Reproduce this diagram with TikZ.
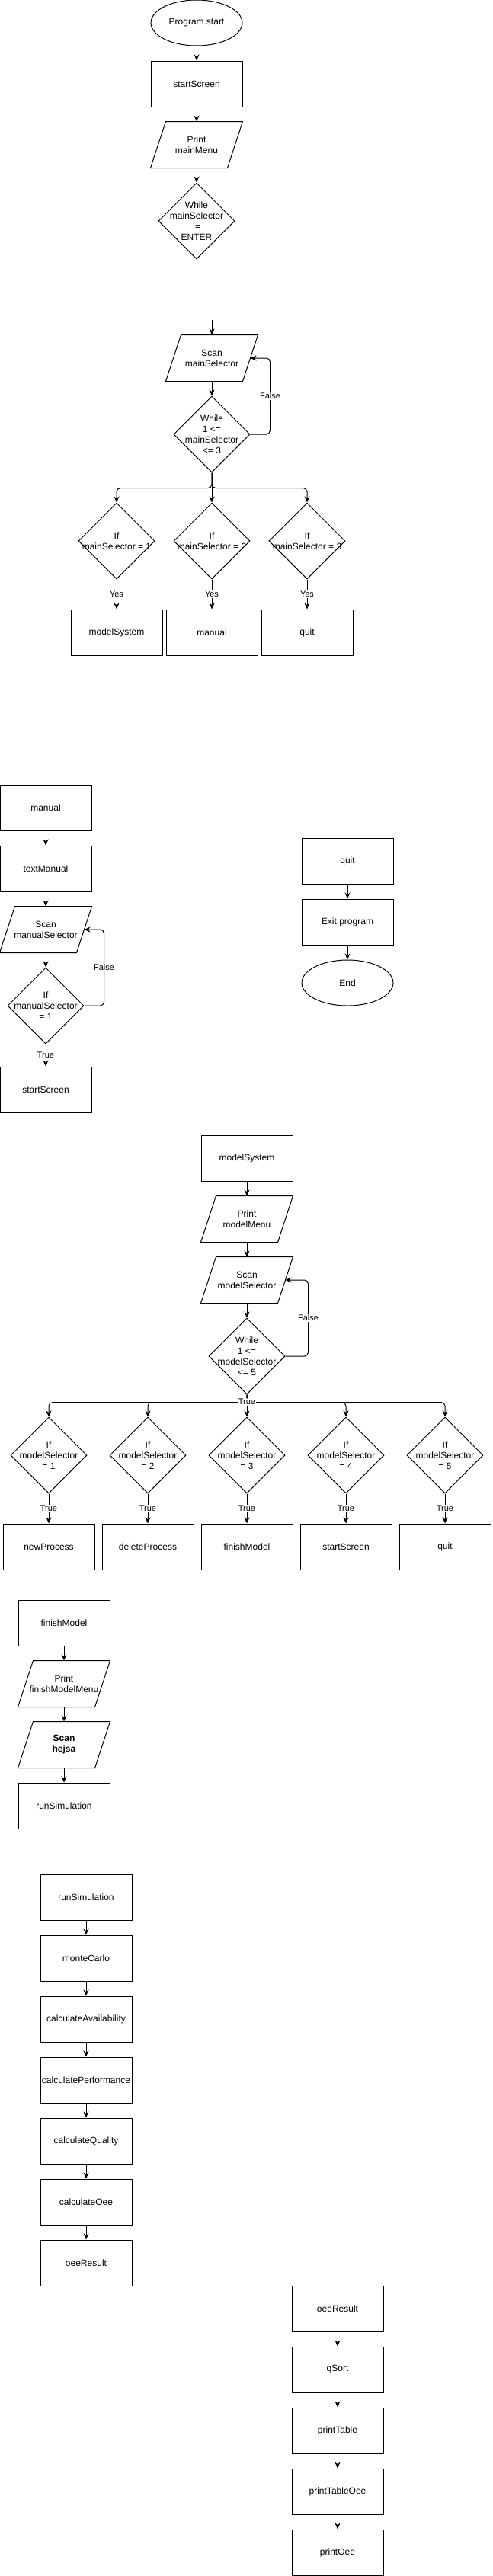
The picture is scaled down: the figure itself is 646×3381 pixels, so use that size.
\documentclass[tikz,border=0pt]{standalone}
\usepackage{fontspec}
\setmainfont{Liberation Sans}
\usetikzlibrary{shapes.geometric,arrows.meta}
\newcommand\nf{\fontsize{12}{14}\selectfont}
\newcommand\lf{\fontsize{11}{13}\selectfont}
\newcommand\pgm[1]{\draw[line width=1pt] (#1.south west) -- ([xshift=20pt]#1.north west) -- (#1.north east) -- ([xshift=-20pt]#1.south east) -- cycle;
  \coordinate (#1r) at ([xshift=-10pt]#1.east);}
\tikzset{
  box/.style={draw, line width=1pt, minimum width=120pt, minimum height=60pt, inner sep=0pt, align=center, font=\nf},
  term/.style={box, ellipse},
  io/.style={box, draw=none},
  dia/.style={draw, line width=1pt, diamond, minimum width=100pt, minimum height=100pt, inner sep=0pt},
  dtxt/.style={align=center, font=\nf, inner sep=0pt},
  lbl/.style={fill=white, inner sep=1pt, font=\lf},
  arr/.style={line width=1pt, -{Stealth[length=8pt,width=7pt,inset=2.5pt]}, rounded corners=5pt},
}
\begin{document}
\begin{tikzpicture}[x=1pt,y=-1pt]
\fill[white] (0,0) rectangle (646,3381);
\useasboundingbox (0,0) rectangle (646,3381);

% ---- section 1
\node[term] (start) at (258,30) {Program start};
\node[box] (s1) at (258,110) {startScreen};
\node[io] (p1) at (258,190) {Print\\mainMenu}; \pgm{p1}
\node[dia, label={[dtxt]center:{While\\mainSelector\\!=\\ENTER}}] (d1) at (258,290) {};
\draw[arr] (start) -- (s1);
\draw[arr] (s1) -- (p1);
\draw[arr] (p1) -- (d1);

% ---- section 2
\coordinate (in2) at (278,420);
\node[io] (p2) at (278,470) {Scan\\mainSelector}; \pgm{p2}
\node[dia, label={[dtxt]center:{While\\1 <=\\mainSelector\\<= 3}}] (d2) at (278,570) {};
\node[dia, label={[dtxt]center:{If\\mainSelector = 1}}] (i1) at (153,710) {};
\node[dia, label={[dtxt]center:{If\\mainSelector = 2}}] (i2) at (278,710) {};
\node[dia, label={[dtxt]center:{If\\mainSelector = 3}}] (i3) at (403,710) {};
\node[box] (b1) at (153,830) {modelSystem};
\node[box] (b2) at (278,830) {manual};
\node[box] (b3) at (403,830) {quit};
\draw[arr] (in2) -- (p2);
\draw[arr] (p2) -- (d2);
\draw[arr] (d2.east) -- ([xshift=26pt]d2.east) |- node[lbl,pos=0.25]{False} (p2r);
\draw[arr] (d2.south) -- ++(0,20) -| (i1.north);
\draw[arr] (d2.south) -- ++(0,20) -| (i3.north);
\draw[arr] (d2) -- (i2);
\draw[arr] (i1) -- node[lbl]{Yes} (b1);
\draw[arr] (i2) -- node[lbl]{Yes} (b2);
\draw[arr] (i3) -- node[lbl]{Yes} (b3);

% ---- section 3: manual
\node[box] (m1) at (60,1060) {manual};
\node[box] (m2) at (60,1140) {textManual};
\node[io] (m3) at (60,1220) {Scan\\manualSelector}; \pgm{m3}
\node[dia, label={[dtxt]center:{If\\manualSelector\\= 1}}] (m4) at (60,1320) {};
\node[box] (m5) at (60,1430) {startScreen};
\draw[arr] (m1) -- (m2);
\draw[arr] (m2) -- (m3);
\draw[arr] (m3) -- (m4);
\draw[arr] (m4.east) -- ([xshift=26pt]m4.east) |- node[lbl,pos=0.25]{False} (m3r);
\draw[arr] (m4) -- node[lbl]{True} (m5);

% ---- quit
\node[box] (q1) at (456,1130) {quit};
\node[box] (q2) at (456,1210) {Exit program};
\node[term] (q3) at (456,1290) {End};
\draw[arr] (q1) -- (q2);
\draw[arr] (q2) -- (q3);

% ---- section 4: modelSystem
\node[box] (ms) at (324,1520) {modelSystem};
\node[io] (pm) at (324,1600) {Print\\modelMenu}; \pgm{pm}
\node[io] (sm) at (324,1680) {Scan\\modelSelector}; \pgm{sm}
\node[dia, label={[dtxt]center:{While\\1 <=\\modelSelector\\<= 5}}] (dm) at (324,1780) {};
\foreach \k/\x in {1/64,2/194,3/324,4/454,5/584}{
  \node[dia, label={[dtxt]center:{If\\modelSelector\\= \k}}] (c\k) at (\x,1910) {};
}
\node[box] (e1) at (64,2030) {newProcess};
\node[box] (e2) at (194,2030) {deleteProcess};
\node[box] (e3) at (324,2030) {finishModel};
\node[box] (e4) at (454,2030) {startScreen};
\node[box] (e5) at (584,2030) {quit};
\draw[arr] (ms) -- (pm);
\draw[arr] (pm) -- (sm);
\draw[arr] (sm) -- (dm);
\draw[arr] (dm.east) -- ([xshift=30pt]dm.east) |- node[lbl,pos=0.25]{False} (smr);
\draw[arr] (dm.south) -- ++(0,10) -| (c1.north);
\draw[arr] (dm.south) -- ++(0,10) -| (c2.north);
\draw[arr] (dm.south) -- ++(0,10) -| (c4.north);
\draw[arr] (dm.south) -- ++(0,10) -| (c5.north);
\draw[arr] (dm) -- node[lbl,pos=0.33]{True} (c3);
\foreach \k in {1,...,5}{
  \draw[arr] (c\k) -- node[lbl]{True} (e\k);
}

% ---- section 5: finishModel
\node[box] (f1) at (84,2130) {finishModel};
\node[io] (f2) at (84,2210) {Print\\finishModelMenu}; \pgm{f2}
\node[io] (f3) at (84,2290) {\textbf{Scan}\\\textbf{hejsa}}; \pgm{f3}
\node[box] (f4) at (84,2370) {runSimulation};
\draw[arr] (f1) -- (f2);
\draw[arr] (f2) -- (f3);
\draw[arr] (f3) -- (f4);

% ---- section 6: runSimulation
\node[box] (r1) at (113,2490) {runSimulation};
\node[box] (r2) at (113,2570) {monteCarlo};
\node[box] (r3) at (113,2650) {calculateAvailability};
\node[box] (r4) at (113,2730) {calculatePerformance};
\node[box] (r5) at (113,2810) {calculateQuality};
\node[box] (r6) at (113,2890) {calculateOee};
\node[box] (r7) at (113,2970) {oeeResult};
\foreach \a/\b in {r1/r2,r2/r3,r3/r4,r4/r5,r5/r6,r6/r7}{\draw[arr] (\a) -- (\b);}

% ---- section 7: oeeResult
\node[box] (o1) at (443,3030) {oeeResult};
\node[box] (o2) at (443,3110) {qSort};
\node[box] (o3) at (443,3190) {printTable};
\node[box] (o4) at (443,3270) {printTableOee};
\node[box] (o5) at (443,3350) {printOee};
\foreach \a/\b in {o1/o2,o2/o3,o3/o4,o4/o5}{\draw[arr] (\a) -- (\b);}
\end{tikzpicture}
\end{document}
